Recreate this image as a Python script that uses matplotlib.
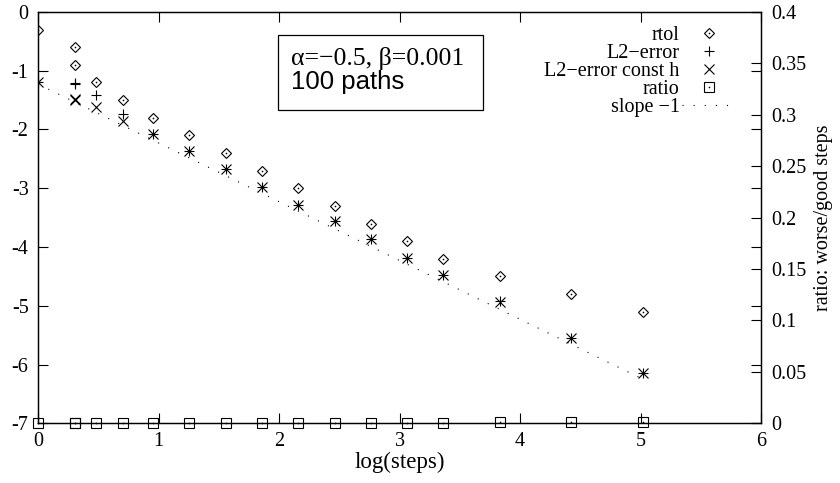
import numpy as np
import matplotlib
matplotlib.use("Agg")
import matplotlib.pyplot as plt
from matplotlib.lines import Line2D
from matplotlib.patches import Rectangle

plt.rcParams['font.family'] = ['Liberation Serif', 'DejaVu Serif']
plt.rcParams['font.size'] = 14.5

# log10 of the number of steps for every run
log_steps = [0.0, 0.301, 0.301, 0.477, 0.699, 0.954, 1.255, 1.556, 1.857,
             2.158, 2.459, 2.760, 3.061, 3.362, 3.83, 4.42, 5.02]
rtol = [-0.3, -0.6, -0.9, -1.2, -1.5, -1.8, -2.1, -2.4, -2.7,
        -3.0, -3.3, -3.6, -3.9, -4.2, -4.5, -4.8, -5.1]
l2_error = [-1.2, -1.21, -1.23, -1.42, -1.73, -2.07, -2.37, -2.68, -2.98,
            -3.28, -3.56, -3.87, -4.18, -4.48, -4.92, -5.54, -6.14]
l2_error_const = [-1.2, -1.48, -1.50, -1.62, -1.85, -2.07, -2.36, -2.67, -2.98,
                  -3.28, -3.55, -3.87, -4.18, -4.48, -4.93, -5.54, -6.14]
ratio = [0, 0, 0, 0, 0, 0, 0, 0, 0, 0, 0, 0, 0, 0, 0.0015, 0.0015, 0.0015]

# reference line with slope -1
slope_x = [0.0, 5.0]
slope_y = [-1.23, -6.23]

xticks = [0, 1, 2, 3, 4, 5, 6]
yticks = [-7, -6, -5, -4, -3, -2, -1, 0]
ytick_labels = ["-7", "-6", "-5", "-4", "-3", "-2", "-1", "0"]
y2ticks = [0, 0.05, 0.1, 0.15, 0.2, 0.25, 0.3, 0.35, 0.4]
y2tick_labels = ["0", "0.05", "0.1", "0.15", "0.2", "0.25", "0.3", "0.35", "0.4"]

fig = plt.figure(figsize=(8.4, 4.83), dpi=100)
ax = fig.add_axes([0.0456, 0.1236, 0.8604, 0.8516])
ax2 = ax.twinx()

mk = dict(ls='none', color='k', mfc='none', mec='k', mew=0.8)
dot = dict(ls='none', marker='o', ms=1.2, color='k', mew=0)

ax.plot(slope_x, slope_y, color='k', lw=0.8, ls=(0, (1, 9)))
ax.plot(log_steps, rtol, marker='D', ms=5.0, **mk)
ax.plot(log_steps, rtol, **dot)
ax.plot(log_steps, l2_error, marker='+', ms=6.5, **mk)
ax.plot(log_steps, l2_error_const, marker='x', ms=7.0, **mk)
ax2.plot(log_steps, ratio, marker='s', ms=7.2, clip_on=False, **mk)
ax2.plot(log_steps, ratio, clip_on=False, **dot)

ax.set_xlim(0, 6)
ax.set_ylim(-7, 0)
ax2.set_ylim(0, 0.4)

ax.set_xticks(xticks)
ax.set_xticklabels([str(t) for t in xticks])
ax.set_yticks(yticks)
ax.set_yticklabels(ytick_labels)
ax2.set_yticks(y2ticks)
ax2.set_yticklabels(y2tick_labels)

ax.tick_params(direction='in', length=7.5, width=0.8, top=True, right=True)
ax.tick_params(axis='y', pad=7)
ax.tick_params(axis='x', pad=6)
ax2.tick_params(direction='in', length=7.5, width=0.8, pad=7)
for a in (ax, ax2):
    for s in a.spines.values():
        s.set_linewidth(0.9)

ax.set_xlabel("log(steps)", labelpad=1, fontsize=16.5)
ax2.set_ylabel("ratio: worse/good steps", labelpad=6)

# parameter box
ax.add_patch(Rectangle((1.99, -1.675), 1.70, 1.275, fill=False, ec='k', lw=0.9))
ax.text(2.095, -0.91, "α=−0.5, β=0.001", ha='left', va='baseline', fontsize=18.5)
ax.text(2.095, -1.306, "100 paths", ha='left', va='baseline',
        family=['Liberation Sans', 'DejaVu Sans'], fontsize=18.5)

handles = [
    (Line2D([], [], marker='D', ms=5.0, **mk), Line2D([], [], **dot)),
    Line2D([], [], marker='+', ms=6.5, **mk),
    Line2D([], [], marker='x', ms=7.0, **mk),
    (Line2D([], [], marker='s', ms=6.5, **mk), Line2D([], [], **dot)),
    Line2D([], [], color='k', lw=0.8, ls=(0, (1, 9))),
]
labels = ["rtol", "L2−error", "L2−error const h", "ratio", "slope −1"]
fig.legend(handles, labels, loc='upper right', bbox_to_anchor=(737 / 840, 1 - 26 / 483),
           frameon=False, markerfirst=False, borderpad=0, labelspacing=-0.06,
           handlelength=2.75, handletextpad=0.1, borderaxespad=0)

fig.savefig("out.png", dpi=100)
